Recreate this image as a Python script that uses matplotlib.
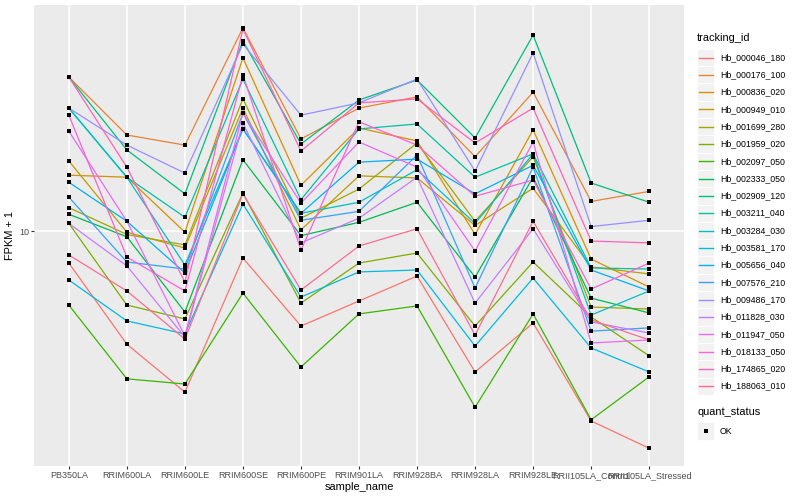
import matplotlib
matplotlib.use("Agg")
import matplotlib.pyplot as plt
from matplotlib.patches import Rectangle
from matplotlib.lines import Line2D

plt.rcParams['font.family'] = ['Liberation Sans', 'DejaVu Sans']

samples = ["PB350LA", "RRIM600LA", "RRIM600LE", "RRIM600SE", "RRIM600PE",
           "RRIM901LA", "RRIM928BA", "RRIM928LA", "RRIM928LE",
           "RRII105LA_Control", "RRII105LA_Stressed"]

tracking_ids = ["Hb_000046_180", "Hb_000176_100", "Hb_000836_020", "Hb_000949_010",
                "Hb_001699_280", "Hb_001959_020", "Hb_002097_050", "Hb_002333_050",
                "Hb_002909_120", "Hb_003211_040", "Hb_003284_030", "Hb_003581_170",
                "Hb_005656_040", "Hb_007576_210", "Hb_009486_170", "Hb_011828_030",
                "Hb_011947_050", "Hb_018133_050", "Hb_174865_020", "Hb_188063_010"]

colors = ["#F8766D", "#EA8331", "#D89000", "#C09B00", "#A3A500", "#7CAE00", "#39B600",
          "#00BB4E", "#00BF7D", "#00C1A3", "#00BFC4", "#00BAE0", "#00B0F6", "#35A2FF",
          "#9590FF", "#C77CFF", "#E76BF3", "#FA62DB", "#FF62BC", "#FF6C91"]

# FPKM + 1 per sample (order of `samples`)
Hb_000046_180 = [7.53, 3.67, 2.40, 7.87, 4.31, 5.38, 6.71, 2.87, 4.43, 1.86, 1.46]
Hb_000176_100 = [39.1, 23.4, 21.4, 60.4, 22.6, 29.7, 32.8, 19.3, 34.2, 13.0, 14.2]
Hb_000836_020 = [16.4, 16.1, 9.9, 46.3, 15.0, 24.9, 22.2, 9.7, 24.5, 7.80, 6.09]
Hb_000949_010 = [18.6, 9.9, 8.60, 29.7, 10.1, 16.3, 16.0, 10.5, 14.6, 7.27, 6.84]
Hb_001699_280 = [12.3, 9.7, 8.84, 32.2, 11.2, 14.5, 21.8, 10.9, 19.3, 5.10, 5.01]
Hb_001959_020 = [10.7, 5.19, 4.59, 14.0, 5.28, 7.53, 8.23, 4.31, 7.60, 4.67, 3.31]
Hb_002097_050 = [5.19, 2.70, 2.58, 5.77, 3.00, 4.80, 5.15, 2.10, 4.80, 1.88, 2.75]
Hb_002333_050 = [11.6, 9.5, 4.88, 18.8, 9.6, 10.8, 12.9, 6.65, 16.1, 5.52, 4.84]
Hb_002909_120 = [39.1, 20.5, 13.9, 53.8, 21.6, 31.9, 38.1, 22.8, 56.7, 15.3, 12.9]
Hb_003211_040 = [29.7, 16.1, 11.3, 38.4, 13.2, 24.7, 25.8, 16.1, 19.8, 7.21, 7.14]
Hb_003284_030 = [29.7, 16.1, 7.40, 24.7, 11.7, 12.9, 17.2, 10.7, 19.8, 4.75, 5.88]
Hb_003581_170 = [6.48, 4.51, 4.02, 12.7, 5.57, 6.96, 7.08, 3.61, 6.59, 3.55, 2.87]
Hb_005656_040 = [15.4, 10.9, 6.90, 24.7, 11.7, 18.4, 18.9, 13.9, 17.9, 7.08, 5.88]
Hb_007576_210 = [13.5, 7.60, 7.14, 28.4, 11.0, 11.9, 19.6, 6.04, 17.6, 4.12, 4.24]
Hb_009486_170 = [29.7, 21.4, 16.7, 52.4, 27.9, 31.1, 38.4, 17.0, 48.4, 10.4, 11.0]
Hb_011828_030 = [10.7, 7.34, 3.91, 26.0, 9.0, 11.2, 16.1, 5.28, 10.2, 4.47, 4.05]
Hb_011947_050 = [24.2, 10.9, 3.95, 28.4, 12.8, 22.0, 17.6, 8.38, 22.0, 3.71, 3.81]
Hb_018133_050 = [27.9, 7.94, 5.88, 39.8, 8.45, 26.3, 21.4, 13.6, 15.7, 5.98, 7.53]
Hb_174865_020 = [39.1, 17.6, 6.36, 59.8, 20.3, 31.1, 32.2, 21.8, 29.7, 9.15, 9.0]
Hb_188063_010 = [8.09, 5.88, 3.84, 13.9, 5.93, 8.76, 10.2, 3.98, 10.9, 4.55, 3.81]

series = [Hb_000046_180, Hb_000176_100, Hb_000836_020, Hb_000949_010, Hb_001699_280,
          Hb_001959_020, Hb_002097_050, Hb_002333_050, Hb_002909_120, Hb_003211_040,
          Hb_003284_030, Hb_003581_170, Hb_005656_040, Hb_007576_210, Hb_009486_170,
          Hb_011828_030, Hb_011947_050, Hb_018133_050, Hb_174865_020, Hb_188063_010]

quant_levels = ["OK"]

W, H = 800, 500
fig = plt.figure(figsize=(8, 5), dpi=100)
fig.patch.set_facecolor("white")

# panel in pixel units
pl, pr, pt, pb = 34, 684, 5, 466
ax = fig.add_axes([pl / W, 1 - pb / H, (pr - pl) / W, (pb - pt) / H])
ax.set_facecolor("#EBEBEB")
ax.set_yscale("log")
ax.set_xlim(-0.6, len(samples) - 1 + 0.6)
ax.set_ylim(1.248, 74.0)

xs = list(range(len(samples)))
for vals, c in zip(series, colors):
    ax.plot(xs, vals, color=c, lw=0.9, zorder=3)
for vals in series:
    ax.plot(xs, vals, ls="none", marker="s", ms=2.5, mew=0, color="black", zorder=4)

ax.set_xticks(xs)
ax.set_xticklabels(samples)
ax.set_yticks([10])
ax.set_yticklabels(["10"])
ax.yaxis.set_minor_locator(matplotlib.ticker.NullLocator())
ax.grid(True, color="white", lw=1.1, zorder=1)
ax.set_axisbelow(True)
for s in ax.spines.values():
    s.set_visible(False)
ax.tick_params(axis="both", length=2.2, width=0.8, color="#333333", pad=1.5,
               labelsize=6.5, labelcolor="#4D4D4D")
ax.set_xlabel("sample_name", fontsize=7.9, labelpad=1.5)
ax.set_ylabel("FPKM + 1", fontsize=7.9, labelpad=3)

# legend drawn in pixel coordinates
lax = fig.add_axes([0, 0, 1, 1])
lax.set_xlim(0, W)
lax.set_ylim(H, 0)
lax.axis("off")

lax.text(697, 38, "tracking_id", fontsize=7.9, va="center", ha="left")
y0, dy = 57.5, 17.3
for i, (name, c) in enumerate(zip(tracking_ids, colors)):
    yc = y0 + i * dy
    lax.add_patch(Rectangle((697, yc - dy / 2), 17.3, dy, facecolor="#F2F2F2",
                            edgecolor="white", lw=0.6))
    lax.add_line(Line2D([699, 712.5], [yc, yc], color=c, lw=1.0))
    lax.text(720, yc, name, fontsize=6.3, va="center", ha="left")

lax.text(697, 412, "quant_status", fontsize=7.9, va="center", ha="left")
for j, lev in enumerate(quant_levels):
    yc = 431 + j * dy
    lax.add_patch(Rectangle((697, yc - dy / 2), 17.3, dy, facecolor="#F2F2F2",
                            edgecolor="white", lw=0.6))
    lax.add_line(Line2D([705.6], [yc], ls="none", marker="s", ms=2.5, mew=0,
                        color="black"))
    lax.text(720, yc, lev, fontsize=6.3, va="center", ha="left")

fig.savefig("out.png", dpi=100)
